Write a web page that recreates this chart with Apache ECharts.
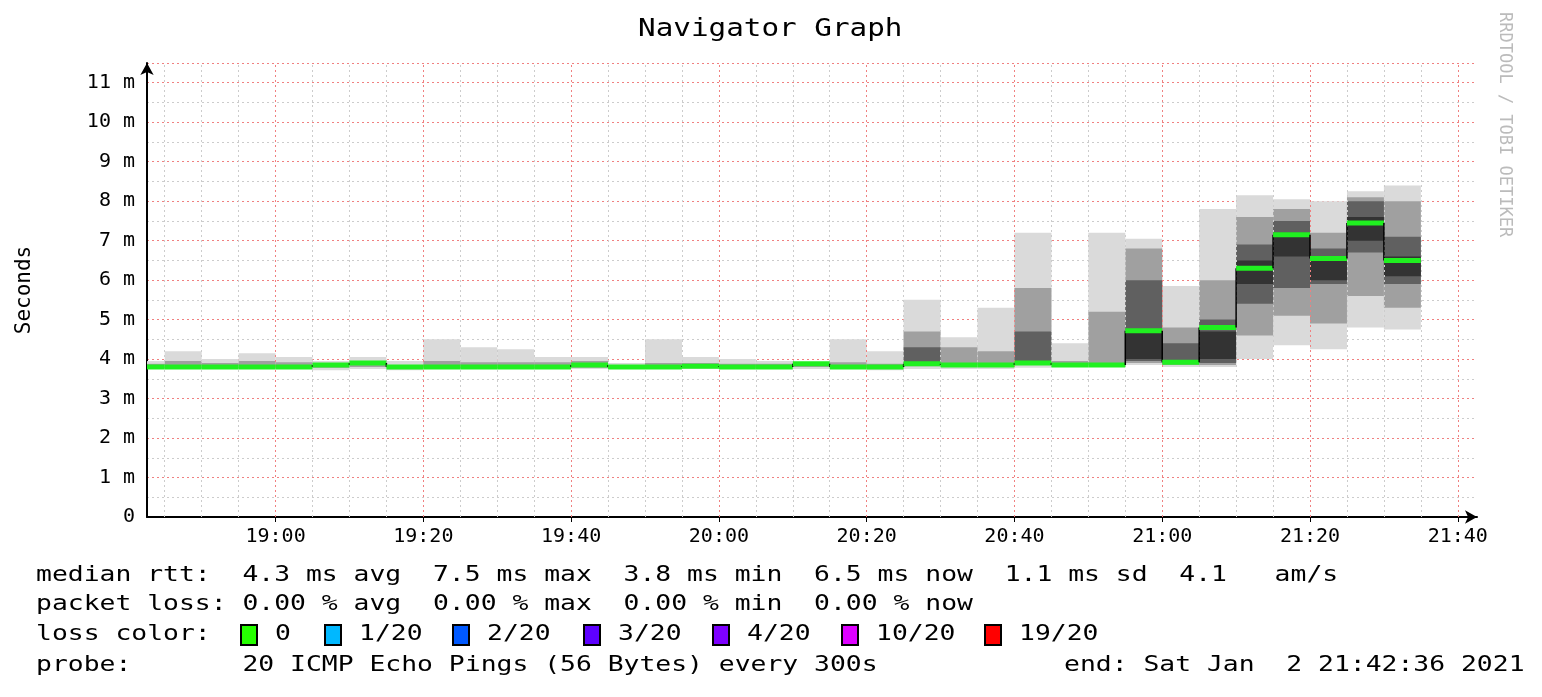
<!DOCTYPE html>
<html lang="en">
<head>
<meta charset="UTF-8">
<script src="https://cdn.jsdelivr.net/npm/echarts@6/dist/echarts.min.js"></script>
<style>
  html, body { margin: 0; padding: 0; background: #fff; }
  #main { width: 1542px; height: 697px; }
</style>
</head>
<body>
<div id="main"></div>
<script>
// minutes after 18:00, 5 minute bins starting at 18:40
var binStart = [40,45,50,55,60,65,70,75,80,85,90,95,100,105,110,115,120,125,130,135,140,145,150,155,160,165,170,175,180,185,190,195,200,205,210];
var median  = [3.8,3.8,3.8,3.8,3.8,3.85,3.9,3.8,3.8,3.8,3.8,3.8,3.85,3.8,3.8,3.82,3.8,3.8,3.88,3.8,3.8,3.88,3.85,3.85,3.9,3.85,3.85,4.72,3.92,4.8,6.3,7.15,6.55,7.45,6.5];
var smokeMin = [3.75,3.75,3.75,3.75,3.75,3.72,3.75,3.72,3.75,3.75,3.75,3.75,3.75,3.75,3.75,3.75,3.75,3.75,3.75,3.75,3.72,3.75,3.75,3.75,3.78,3.8,3.8,3.85,3.8,3.8,4.0,4.35,4.25,4.8,4.75];
var smokeMax = [3.95,4.2,4.0,4.15,4.05,3.95,4.05,3.95,4.5,4.3,4.25,4.05,4.05,3.9,4.5,4.05,4.0,3.95,3.9,4.5,4.2,5.5,4.55,5.3,7.2,4.4,7.2,7.05,5.85,7.8,8.15,8.05,8.0,8.25,8.4];
var midLo = [3.78,3.78,3.78,3.78,3.78,3.78,3.8,3.78,3.78,3.78,3.78,3.78,3.78,3.78,3.78,3.78,3.78,3.78,3.8,3.78,3.78,3.82,3.82,3.82,3.85,3.82,3.85,3.9,3.85,3.85,4.6,5.1,4.9,5.6,5.3];
var midHi = [3.88,3.95,3.9,3.95,3.92,3.9,3.95,3.85,3.95,3.92,3.92,3.92,3.95,3.85,3.9,3.9,3.88,3.88,3.9,3.92,3.88,4.7,4.3,4.2,5.8,3.95,5.2,6.8,4.8,6.0,7.6,7.8,7.2,8.1,8.0];
var darkLo = [null,null,null,null,null,null,null,null,null,null,null,null,null,null,null,null,null,null,null,null,null,3.85,null,null,3.9,null,null,3.95,3.9,3.9,5.4,5.8,5.9,6.7,5.9];
var darkHi = [null,null,null,null,null,null,null,null,null,null,null,null,null,null,null,null,null,null,null,null,null,4.3,null,null,4.7,null,null,6.0,4.4,5.0,6.9,7.5,6.8,8.0,7.1];
var coreLo = [null,null,null,null,null,null,null,null,null,null,null,null,null,null,null,null,null,null,null,null,null,null,null,null,null,null,null,4.0,null,4.0,5.9,6.6,6.0,7.0,6.1];
var coreHi = [null,null,null,null,null,null,null,null,null,null,null,null,null,null,null,null,null,null,null,null,null,null,null,null,null,null,null,4.7,null,4.7,6.5,7.2,6.6,7.6,6.6];
var majorTicks = [60,80,100,120,140,160,180,200,220];
var tickLabels = ['19:00','19:20','19:40','20:00','20:20','20:40','21:00','21:20','21:40'];
var xMin = 42.6, xMax = 222.6;

var minorTicks = [];
for (var t = 45; t < xMax; t += 5) if (t % 20 !== 0) minorTicks.push(t);

function bandData(lo, hi) {
  var out = [];
  for (var i = 0; i < binStart.length; i++) {
    if (lo[i] == null) continue;
    out.push([Math.max(binStart[i], xMin), binStart[i] + 5, lo[i], hi[i]]);
  }
  return out;
}
function band(name, lo, hi, color) {
  return {
    name: name, type: 'custom', silent: true, z: 3, encode: { x: [0, 1], y: [2, 3] },
    data: bandData(lo, hi),
    renderItem: function (p, api) {
      var p1 = api.coord([api.value(0), api.value(3)]);
      var p2 = api.coord([api.value(1), api.value(2)]);
      return { type: 'rect', shape: { x: p1[0], y: p1[1], width: p2[0] - p1[0], height: p2[1] - p1[1] }, style: { fill: color } };
    }
  };
}
var medData = binStart.map(function (s, i) {
  return [Math.max(s, xMin), s + 5, median[i], i > 0 ? median[i - 1] : median[i]];
});

var font = 'DejaVu Sans Mono';
function txt(x, y, s, size, sx) {
  return { type: 'text', x: x, y: y, scaleX: sx || 1.256, style: { text: s, font: (size || 21) + 'px ' + font, fill: '#000', verticalAlign: 'middle' } };
}
var chart = echarts.init(document.getElementById('main'));
var option = {
  animation: false,
  backgroundColor: '#fff',
  grid: { left: 147, right: 65, top: 63, bottom: 180 },
  xAxis: {
    type: 'value', min: xMin, max: xMax,
    axisLine: { lineStyle: { color: '#000', width: 2 }, symbol: ['none', 'arrow'], symbolSize: [10, 12] },
    axisTick: { show: true, customValues: majorTicks, length: 5, lineStyle: { color: '#000' } },
    axisLabel: { customValues: majorTicks, formatter: function (v) { return tickLabels[majorTicks.indexOf(v)]; }, fontFamily: font, fontSize: 20, color: '#000', margin: 10 },
    splitLine: { show: false }
  },
  yAxis: {
    type: 'value', min: 0, max: 11.5, interval: 1,
    axisLine: { show: true, lineStyle: { color: '#000', width: 2 }, symbol: ['none', 'arrow'], symbolSize: [10, 12] },
    axisTick: { show: false },
    axisLabel: { fontFamily: font, fontSize: 20, color: '#000', margin: 12, formatter: function (v) { return v === 0 ? '0' : (v > 11 ? '' : v + ' m'); } },
    splitLine: { show: true, lineStyle: { color: '#f08080', type: [2, 3], width: 1 } },
    minorTick: { show: false, splitNumber: 2 },
    minorSplitLine: { show: true, lineStyle: { color: '#cccccc', type: [2, 3] } },
    name: 'Seconds', nameLocation: 'middle', nameGap: 112, nameRotate: 90,
    nameTextStyle: { fontFamily: font, fontSize: 21, color: '#000' }
  },
  series: [
    {
      type: 'line', data: [], silent: true,
      markLine: {
        silent: true, symbol: 'none', label: { show: false },
        data: minorTicks.map(function (v) { return { xAxis: v, lineStyle: { color: '#cccccc', type: [2, 3], width: 1 } }; })
          .concat(majorTicks.filter(function (v) { return v < xMax; }).map(function (v) { return { xAxis: v, lineStyle: { color: '#f08080', type: [2, 3], width: 1 } }; }))
      }
    },
    band('light', smokeMin, smokeMax, '#dadada'),
    band('mid', midLo, midHi, '#a0a0a0'),
    band('dark', darkLo, darkHi, '#606060'),
    band('core', coreLo, coreHi, '#333333'),
    {
      name: 'median', type: 'custom', silent: true, z: 10, encode: { x: [0, 1], y: [2, 3] },
      data: medData,
      renderItem: function (p, api) {
        var a = api.coord([api.value(0), api.value(2)]);
        var b = api.coord([api.value(1), api.value(2)]);
        var prev = api.coord([api.value(0), api.value(3)]);
        return { type: 'group', children: [
          { type: 'line', shape: { x1: a[0], y1: prev[1], x2: a[0], y2: a[1] }, style: { stroke: '#000', lineWidth: 1.5 } },
          { type: 'rect', shape: { x: a[0], y: a[1] - 2.5, width: b[0] - a[0], height: 5 }, style: { fill: '#20f020' } }
        ] };
      }
    }
  ],
  graphic: [
    txt(638, 30, 'Navigator Graph', 24, 1.22),
    { type: 'text', x: 1513, y: 12, rotation: -Math.PI / 2, style: { text: 'RRDTOOL / TOBI OETIKER', font: '17px ' + font, fill: '#bbb' } },
    txt(36, 576, 'median rtt:  4.3 ms avg  7.5 ms max  3.8 ms min  6.5 ms now  1.1 ms sd  4.1   am/s'),
    txt(36, 605, 'packet loss: 0.00 % avg  0.00 % max  0.00 % min  0.00 % now'),
    txt(36, 635, 'loss color:'),
    txt(36, 666, 'probe:       20 ICMP Echo Pings (56 Bytes) every 300s'),
    txt(1064, 666, 'end: Sat Jan  2 21:42:36 2021')
  ]
};
var lossLabels = ['0', '1/20', '2/20', '3/20', '4/20', '10/20', '19/20'];
var lossColors = ['#26ff00', '#00b8ff', '#0059ff', '#5e00ff', '#7e00ff', '#dd00ff', '#ff0000'];
var lossX = [241, 325, 453, 584, 713, 842, 985];
for (var i = 0; i < lossLabels.length; i++) {
  option.graphic.push({ type: 'rect', x: lossX[i], y: 625, shape: { width: 16, height: 20 }, style: { fill: lossColors[i], stroke: '#000', lineWidth: 2 } });
  option.graphic.push(txt(lossX[i] + 34, 635, lossLabels[i]));
}
chart.setOption(option);
</script>
</body>
</html>
